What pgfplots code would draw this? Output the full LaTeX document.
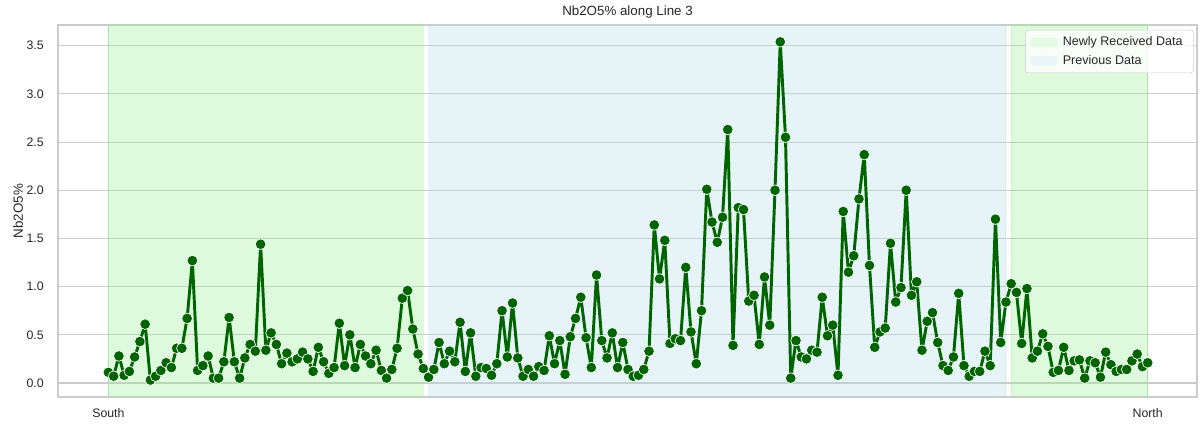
\documentclass[border=0pt]{standalone}
\usepackage{fontspec}
\setmainfont{Liberation Sans}
\usepackage{pgfplots}
\pgfplotsset{compat=1.18}
\definecolor{lgreen}{HTML}{90EE90}
\definecolor{lblue}{HTML}{ADD8E6}
\definecolor{dgreen}{HTML}{006400}
\definecolor{gridc}{HTML}{CCCCCC}
\definecolor{txt}{HTML}{262626}
\begin{document}
\begin{tikzpicture}
\useasboundingbox (0,0) rectangle (901.5pt,318pt);
\begin{axis}[
  at={(43.5pt,20.25pt)}, anchor=south west,
  scale only axis, width=854.25pt, height=279pt,
  xmin=-9.6, xmax=207.4, ymin=-0.1455, ymax=3.715,
  xtick={0,198}, xticklabels={South,North},
  ytick={0,0.5,1,1.5,2,2.5,3,3.5},
  yticklabel={\pgfmathprintnumber[fixed,fixed zerofill,precision=1]{\tick}},
  /pgf/number format/assume math mode=true,
  major tick length=0pt,
  axis line style={draw=gridc, line width=0.9pt},
  grid=major,
  major grid style={draw=gridc, line width=0.8pt},
  ticklabel style={font=\fontsize{9.25}{11}\selectfont, text=txt},
  xticklabel style={anchor=base, yshift=-15.3pt},
  yticklabel style={anchor=east, inner sep=0pt, xshift=-10.5pt},
  title={Nb2O5\% along Line 3},
  title style={at={(0.5,1)}, anchor=base, yshift=0.9pt, inner sep=0pt, font=\fontsize{10}{12}\selectfont, text=txt},
  ylabel={Nb2O5\%},
  ylabel style={at={(axis description cs:-0.0351,0.5)}, anchor=center, inner sep=0pt, font=\fontsize{10}{12}\selectfont, text=txt},
  legend style={at={(0.997,0.987)}, anchor=north east, draw=gridc, rounded corners=2pt,
    fill=white, fill opacity=0.8, text opacity=1, draw opacity=1,
    font=\fontsize{9.4}{11}\selectfont, text=txt,
    row sep=1.5pt, inner xsep=4pt, inner ysep=3pt,
    nodes={inner xsep=4pt}},
  legend cell align=left,
]
\addlegendimage{legend image code/.code={\fill[lgreen!30!white] (-1pt,-3.4pt) rectangle (18.5pt,3.4pt);}}
\addlegendentry{Newly Received Data}
\addlegendimage{legend image code/.code={\fill[lblue!30!white] (-1pt,-3.4pt) rectangle (18.5pt,3.4pt);}}
\addlegendentry{Previous Data}
\filldraw[fill=lgreen, draw=lgreen, fill opacity=0.3, draw opacity=0.3, line width=0.75pt] (axis cs:0,-1) rectangle (axis cs:60,5);
\filldraw[fill=lblue, draw=lblue, fill opacity=0.3, draw opacity=0.3, line width=0.75pt] (axis cs:61,-1) rectangle (axis cs:171,5);
\filldraw[fill=lgreen, draw=lgreen, fill opacity=0.3, draw opacity=0.3, line width=0.75pt] (axis cs:172,-1) rectangle (axis cs:198,5);
\addplot[forget plot, dgreen, line width=2.2pt, line join=round, line cap=round, mark=*, mark size=4pt, mark options={fill=dgreen, draw=white, line width=0.5pt}]
table[x expr=\coordindex, y index=0, header=false] {
0.11
0.07
0.28
0.08
0.12
0.27
0.43
0.61
0.03
0.07
0.13
0.21
0.16
0.36
0.36
0.67
1.27
0.13
0.18
0.28
0.05
0.05
0.22
0.68
0.22
0.05
0.26
0.40
0.33
1.44
0.34
0.52
0.40
0.20
0.31
0.22
0.25
0.32
0.25
0.12
0.37
0.22
0.10
0.16
0.62
0.18
0.50
0.16
0.40
0.28
0.20
0.34
0.13
0.05
0.14
0.36
0.88
0.96
0.56
0.30
0.15
0.06
0.14
0.42
0.20
0.33
0.22
0.63
0.12
0.52
0.07
0.16
0.15
0.08
0.20
0.75
0.27
0.83
0.26
0.07
0.14
0.07
0.17
0.13
0.49
0.20
0.44
0.09
0.48
0.67
0.89
0.47
0.16
1.12
0.44
0.26
0.52
0.16
0.42
0.14
0.07
0.08
0.14
0.33
1.64
1.08
1.48
0.41
0.46
0.44
1.20
0.53
0.20
0.75
2.01
1.67
1.46
1.72
2.63
0.39
1.82
1.80
0.85
0.91
0.40
1.10
0.60
2.00
3.54
2.55
0.05
0.44
0.27
0.25
0.34
0.32
0.89
0.49
0.60
0.08
1.78
1.15
1.32
1.91
2.37
1.22
0.37
0.53
0.57
1.45
0.84
0.99
2.00
0.91
1.05
0.34
0.64
0.73
0.42
0.18
0.13
0.27
0.93
0.18
0.07
0.12
0.12
0.33
0.18
1.70
0.42
0.84
1.03
0.94
0.41
0.98
0.26
0.33
0.51
0.38
0.11
0.13
0.37
0.13
0.23
0.24
0.05
0.23
0.21
0.06
0.32
0.19
0.12
0.14
0.14
0.23
0.30
0.17
0.21
};
\end{axis}
\end{tikzpicture}
\end{document}
